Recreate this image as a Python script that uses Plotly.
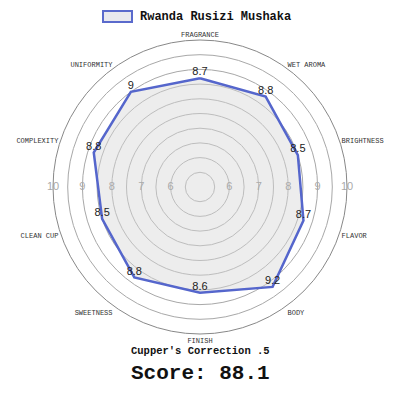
import numpy as np
import plotly.graph_objects as go

categories = ["FRAGRANCE", "WET AROMA", "BRIGHTNESS", "FLAVOR", "BODY",
              "FINISH", "SWEETNESS", "CLEAN CUP", "COMPLEXITY", "UNIFORMITY"]
scores = [8.7, 8.8, 8.5, 8.7, 9.2, 8.6, 8.8, 8.5, 8.8, 9]
coffee_name = "Rwanda Rusizi Mushaka"
correction = "Cupper's Correction .5"
total_score = "Score: 88.1"
scale_labels = [6, 7, 8, 9, 10]
grid_vals = [5.5, 6, 6.5, 7, 7.5, 8, 8.5, 9, 9.5, 10]

n = len(categories)
angles = list(np.arange(n) * 360 / n)
mono = "Courier New, Liberation Mono, monospace"

fig = go.Figure()
fig.add_trace(go.Scatterpolar(
    r=scores + scores[:1],
    theta=angles + angles[:1],
    mode="lines+text",
    text=[str(v) for v in scores] + [""],
    textposition="top center",
    textfont=dict(family="Arial, Liberation Sans", size=11, color="#222"),
    fill="toself",
    fillcolor="rgba(215,215,215,0.45)",
    line=dict(color="#5566cc", width=2.5),
    name=coffee_name,
    showlegend=False,
))

# scale numbers on both sides of the centre
for side in [90, 270]:
    fig.add_trace(go.Scatterpolar(
        r=scale_labels,
        theta=[side] * len(scale_labels),
        mode="text",
        text=[str(v) for v in scale_labels],
        textfont=dict(family="Arial, Liberation Sans", size=11, color="#aaaaaa"),
        showlegend=False,
        hoverinfo="skip",
    ))

# plotly keeps its legend inside the page, so the key is built from two annotations
# (the page shows the figure offset by the body margin, 8px; positions allow for it)
fig.update_layout(
    width=400, height=400,
    margin=dict(l=0, r=0, t=0, b=0, autoexpand=False),
    paper_bgcolor="white",
    polar=dict(
        domain=dict(x=[0.1125, 0.8475], y=[0.185, 0.92]),
        bgcolor="white",
        radialaxis=dict(range=[5, 10], tickvals=grid_vals, showticklabels=False,
                        ticks="", showline=False, gridcolor="#a8a8a8", gridwidth=1),
        angularaxis=dict(direction="clockwise", rotation=90,
                         tickvals=angles, ticktext=categories, ticks="",
                         showgrid=False, showline=True, linecolor="#888", linewidth=1,
                         tickfont=dict(family=mono, size=7, color="#333")),
    ),
    annotations=[
        dict(text=" ", x=0.27375, y=0.9785, xref="paper", yref="paper",
             xanchor="center", yanchor="middle", width=27, height=9,
             bgcolor="#e9e9ee", bordercolor="#5a6acc", borderwidth=2, borderpad=0,
             showarrow=False, font=dict(size=6)),
        dict(text="<b>" + coffee_name + "</b>", x=0.325, y=0.978, xref="paper", yref="paper",
             xanchor="left", yanchor="middle", showarrow=False,
             font=dict(family=mono, size=12, color="#111")),
        dict(text="<b>" + correction + "</b>", x=0.48, y=0.1425, xref="paper", yref="paper",
             yanchor="middle", showarrow=False, font=dict(family=mono, size=10.5, color="#111")),
        dict(text="<b>" + total_score + "</b>", x=0.48, y=0.0875, xref="paper", yref="paper",
             yanchor="middle", showarrow=False, font=dict(family=mono, size=21, color="#111")),
    ],
)

fig.write_html("out.html")
